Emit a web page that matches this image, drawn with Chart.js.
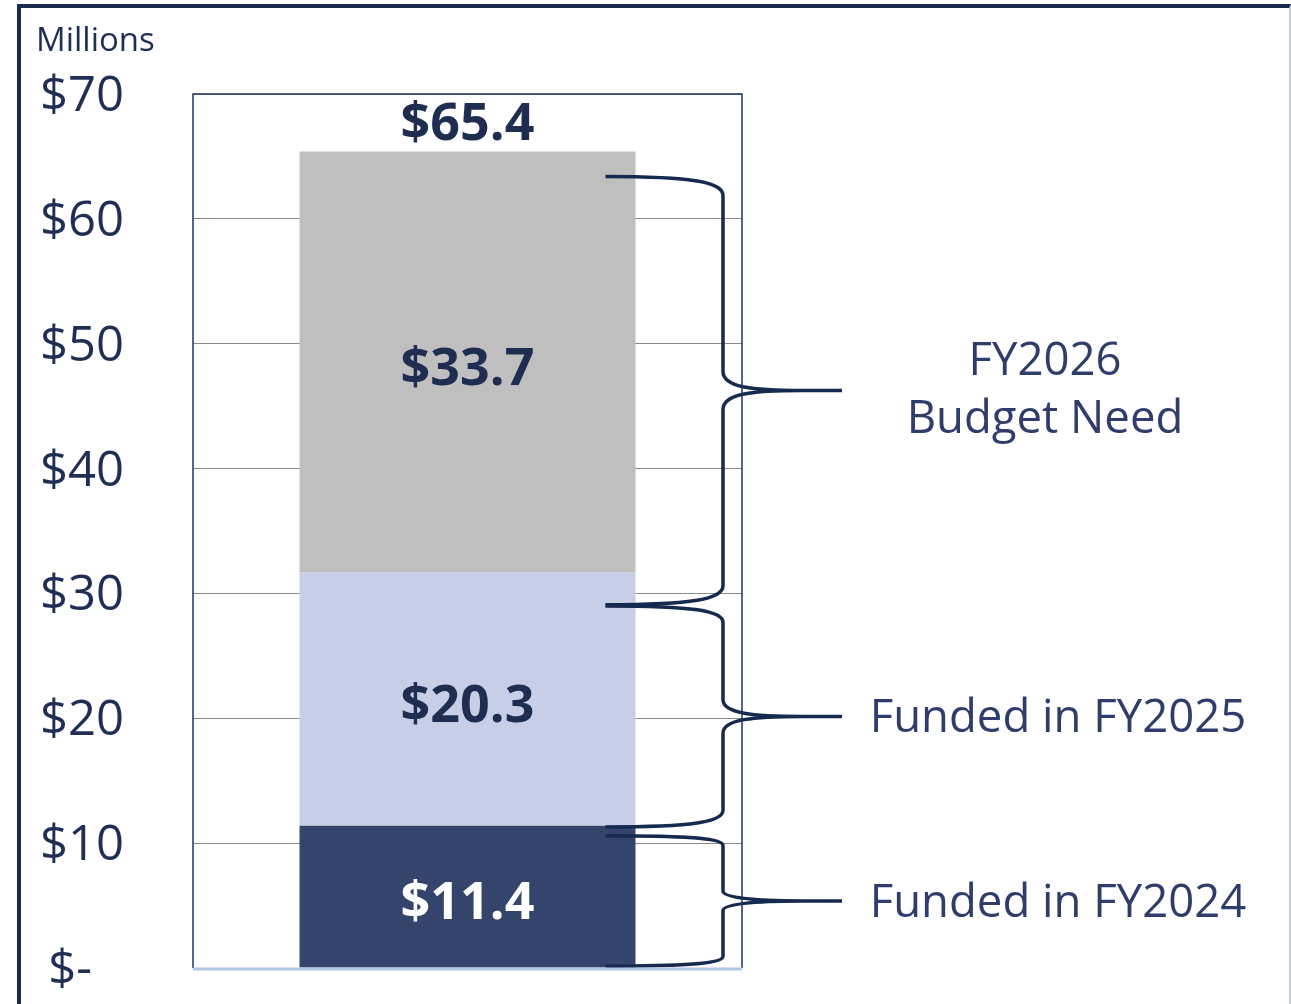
<!DOCTYPE html>
<html>
<head>
<meta charset="utf-8">
<script src="https://cdn.jsdelivr.net/npm/chart.js@4"></script>
<style>
  html, body { margin: 0; padding: 0; background: #fff; }
  #wrap { position: relative; width: 1291px; height: 1004px; overflow: hidden; }
  #frame { position: absolute; left: 17px; top: 4px; width: 1268px; height: 1100px;
           border-top: 4px solid #1B2B50; border-left: 4px solid #1B2B50; border-right: 2px solid #C5CCD6; }
  canvas { position: absolute; left: 0; top: 0; }
</style>
</head>
<body>
<div id="wrap">
  <div id="frame"></div>
  <canvas id="graphique" width="1291" height="1004"></canvas>
</div>
<script>
  const categories = ["Budget"];
  const seriesNames = ["Funded in FY2024", "Funded in FY2025", "FY2026 Budget Need"];
  const seriesValues = [11.4, 20.3, 33.7];
  const seriesColors = ["#35446C", "#C7CEE6", "#BFBFBF"];
  const labelColors = ["#FFFFFF", "#1F2D50", "#1F2D50"];
  const yMin = 0, yMax = 70, yStep = 10;
  // brace spans, in millions
  const braceRanges = [[0.15, 10.6], [11.3, 29.0], [29.1, 63.4]];
  const braceLabels = [["Funded in FY2024"], ["Funded in FY2025"], ["FY2026", "Budget Need"]];

  const FONT = "'Open Sans', 'Noto Sans', sans-serif";
  const total = seriesValues.reduce((a, b) => a + b, 0);

  function money(v) {
    return "$" + v.toFixed(1);
  }

  function drawBrace(ctx, x0, x1, x2, yTop, yBot) {
    const yMid = (yTop + yBot) / 2;
    const r = Math.min(19, (yBot - yTop) * 0.075);
    const k = x0 + (x1 - x0) * 0.75;
    ctx.beginPath();
    ctx.moveTo(x0, yTop);
    ctx.bezierCurveTo(k, yTop, x1, yTop + r * 0.3, x1, yTop + r);
    ctx.lineTo(x1, yMid - r);
    ctx.bezierCurveTo(x1, yMid - 3, x1 + 30, yMid, x2 - 40, yMid);
    ctx.lineTo(x2, yMid);
    ctx.moveTo(x2 - 40, yMid);
    ctx.bezierCurveTo(x1 + 30, yMid, x1, yMid + 3, x1, yMid + r);
    ctx.lineTo(x1, yBot - r);
    ctx.bezierCurveTo(x1, yBot - r * 0.3, k, yBot, x0, yBot);
    ctx.stroke();
    return yMid;
  }

  const overlay = {
    id: "overlay",
    afterDatasetsDraw(chart) {
      const { ctx, chartArea: a, scales: { y } } = chart;
      ctx.save();
      ctx.textAlign = "center";
      ctx.textBaseline = "middle";
      ctx.font = "bold 52px " + FONT;
      let topBar;
      chart.data.datasets.forEach((ds, i) => {
        const bar = chart.getDatasetMeta(i).data[0];
        ctx.fillStyle = labelColors[i];
        ctx.fillText(money(ds.data[0]), bar.x, (bar.y + bar.base) / 2 + 8);
        topBar = bar;
      });
      ctx.fillStyle = "#1F2D50";
      ctx.fillText(money(total), topBar.x, topBar.y - 26);

      // braces + their labels
      const x0 = topBar.x + topBar.width / 2 - 30;
      const x1 = a.right - 19;
      const x2 = a.right + 100;
      ctx.strokeStyle = "#162A4F";
      ctx.lineWidth = 3.5;
      ctx.lineCap = "butt";
      ctx.font = "45.5px " + FONT;
      ctx.fillStyle = "#2E3D6B";
      braceRanges.forEach((rg, i) => {
        const yMid = drawBrace(ctx, x0, x1, x2, y.getPixelForValue(rg[1]), y.getPixelForValue(rg[0]));
        const lines = braceLabels[i];
        const cx = lines.length > 1 ? x2 + 203 : x2 + 216;
        const dy = lines.length > 1 ? 0 : 3;
        lines.forEach((t, j) => {
          ctx.fillText(t, cx, yMid + dy + (j - (lines.length - 1) / 2) * 58);
        });
      });
      ctx.restore();
    },
    afterDraw(chart) {
      const { ctx, chartArea: a } = chart;
      ctx.save();
      ctx.strokeStyle = "#1F3462";
      ctx.lineWidth = 1.5;
      ctx.beginPath();
      ctx.moveTo(a.left, a.bottom);
      ctx.lineTo(a.left, a.top);
      ctx.lineTo(a.right, a.top);
      ctx.lineTo(a.right, a.bottom);
      ctx.stroke();
      ctx.strokeStyle = "#B4C4E4";
      ctx.lineWidth = 3;
      ctx.beginPath();
      ctx.moveTo(a.left, a.bottom + 1);
      ctx.lineTo(a.right, a.bottom + 1);
      ctx.stroke();
      ctx.fillStyle = "#1F2E55";
      ctx.font = "33px " + FONT;
      ctx.textAlign = "left";
      ctx.textBaseline = "middle";
      ctx.fillText("Millions", 36, 42);
      ctx.restore();
    }
  };

  const ctx = document.getElementById("graphique").getContext("2d");
  window.myChart = new Chart(ctx, {
    type: "bar",
    data: {
      labels: categories,
      datasets: seriesNames.map((name, i) => ({
        label: name,
        data: [seriesValues[i]],
        backgroundColor: seriesColors[i],
        borderWidth: 0,
        barPercentage: 0.612,
        categoryPercentage: 1
      }))
    },
    options: {
      responsive: false,
      animation: false,
      layout: { padding: { left: 40, top: 94, right: 549, bottom: 36 } },
      plugins: {
        legend: { display: false },
        tooltip: { enabled: false },
        title: { display: false }
      },
      scales: {
        x: {
          stacked: true,
          ticks: { display: false },
          grid: { display: false },
          border: { display: false },
          afterFit(s) { s.height = 0; }
        },
        y: {
          stacked: true,
          min: yMin,
          max: yMax,
          ticks: {
            stepSize: yStep,
            crossAlign: "far",
            padding: 0,
            labelOffset: 3,
            color: "#1F2E55",
            font: { family: FONT, size: 49 },
            callback: v => v === 0 ? "\u2009$-" : "$" + v
          },
          grid: { color: "#8A8A8A", lineWidth: 1, drawTicks: false },
          border: { display: false },
          afterFit(s) { s.width = 153; }
        }
      }
    },
    plugins: [overlay]
  });
</script>
</body>
</html>
